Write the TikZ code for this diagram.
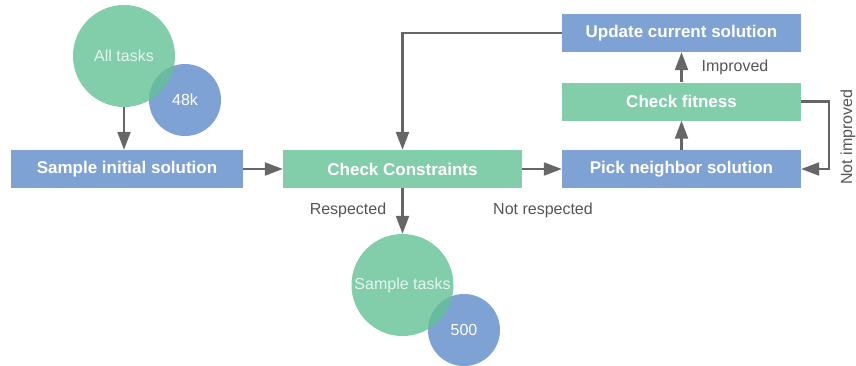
\documentclass[tikz,border=0pt]{standalone}
\usepackage{fontspec}
\setmainfont{Liberation Sans}
\usetikzlibrary{arrows.meta, positioning}
\definecolor{softgreen}{HTML}{82CDAA}
\definecolor{deepgreen}{HTML}{63C095}
\definecolor{softblue}{HTML}{7EA2D3}
\definecolor{linegray}{HTML}{666666}
\definecolor{labelgray}{HTML}{555555}

\begin{document}
\begin{tikzpicture}[x=1pt, y=-1pt,
    box/.style={rectangle, minimum width=239pt, minimum height=38pt, inner sep=0pt, text=white, font=\fontsize{17}{20}\selectfont\bfseries},
    bluebox/.style={box, fill=softblue},
    greenbox/.style={box, fill=softgreen},
    bigdot/.style={circle, minimum size=102pt, inner sep=0pt, fill=deepgreen, fill opacity=0.8, text=white, font=\fontsize{16}{19}\selectfont},
    smalldot/.style={circle, minimum size=72pt, inner sep=0pt, fill=softblue, text=white, font=\fontsize{16}{19}\selectfont},
    flow/.style={-{Triangle[length=18pt, width=13pt]}, draw=linegray, line width=2.2pt},
    tag/.style={text=labelgray, font=\fontsize{16}{19}\selectfont}]
    \useasboundingbox (0,0) rectangle (856,365);

    \node[smalldot] (allnum) at (185,100) {48k};
    \node[bigdot] (all) at (124,56) {All tasks};
    \node[smalldot] (samplenum) at (464,330) {500};
    \node[bigdot] (sample) at (402.5,285) {Sample tasks};

    \node[bluebox, minimum width=232pt] (init) at (127,169) {Sample initial solution};
    \node[greenbox] (check) at (402.5,169) {Check Constraints};
    \node[bluebox] (pick) at (681.5,169) {Pick neighbor solution};
    \node[greenbox] (fit) at (681.5,101.5) {Check fitness};
    \node[bluebox] (update) at (681.5,33) {Update current solution};

    \node[tag] (resp) at (348,210) {Respected};
    \node[tag] (notresp) at (543,210) {Not respected};
    \node[tag] (impr) at (735,67) {Improved};
    \node[tag, rotate=90] (notimpr) at (848,137) {Not improved};

    \draw[flow] (all.south) -- (all.south |- init.north);
    \draw[flow] (init) -- (check);
    \draw[flow] (check) -- (pick);
    \draw[flow] (check) -- (sample);
    \draw[flow] (pick) -- (fit);
    \draw[flow] (fit) -- (update);
    \draw[flow] (update.west) -| (check.north);
    \draw[flow] (fit.east) -- ++(28,0) |- (pick.east);
\end{tikzpicture}
\end{document}
